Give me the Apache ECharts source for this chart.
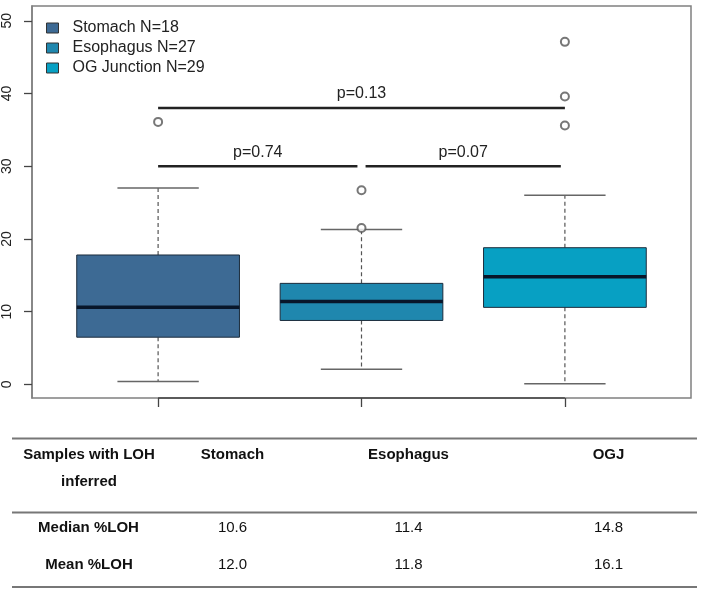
<!DOCTYPE html>
<html>
<head>
<meta charset="utf-8">
<script src="https://cdn.jsdelivr.net/npm/echarts@6/dist/echarts.min.js"></script>
<style>
  html, body { margin: 0; padding: 0; background: #fff; }
  #chart { width: 706px; height: 589px; }
</style>
</head>
<body>
<div id="chart"></div>
<script>
// groups (legend names) and box colours
const groupNames = ['Stomach N=18', 'Esophagus N=27', 'OG Junction N=29'];
const groupColors = ['#3d6a94', '#1f87ae', '#07a0c3'];
// box stats per group: [min, Q1, median, Q3, max]
const stomachBox = [0.4, 6.5, 10.6, 17.8, 27.0];
const esophagusBox = [2.1, 8.8, 11.4, 13.9, 21.3];
const ogjBox = [0.1, 10.6, 14.8, 18.8, 26.0];
// outliers per group
const stomachOut = [36.1];
const esophagusOut = [26.7, 21.5];
const ogjOut = [47.1, 39.6, 35.6];
// pairwise tests: span on x, height and label
const pSpans = [[1, 1.98], [2.02, 2.98], [1, 3]];
const pHeights = [30.0, 30.0, 38.0];
const pLabels = ['p=0.74', 'p=0.07', 'p=0.13'];
// y axis ticks
const yTicks = [0, 10, 20, 30, 40, 50];
// table below the chart
const tableCols = ['Stomach', 'Esophagus', 'OGJ'];
const medianRow = ['10.6', '11.4', '14.8'];
const meanRow = ['12.0', '11.8', '16.1'];

const boxes = [stomachBox, esophagusBox, ogjBox];
const outs = [stomachOut, esophagusOut, ogjOut];
const FONT = '"Liberation Sans", Arial, Helvetica, sans-serif';

function renderBox(params, api) {
  const x = api.value(0);
  const lo = api.value(1), q1 = api.value(2), med = api.value(3), q3 = api.value(4), hi = api.value(5);
  const hw = 0.4, cw = 0.2;
  const a = api.coord([x - hw, q3]);
  const b = api.coord([x + hw, q1]);
  const line = (p1, p2, style) => ({
    type: 'line',
    shape: { x1: p1[0], y1: p1[1], x2: p2[0], y2: p2[1] },
    style: style
  });
  const dashed = { stroke: '#555', lineWidth: 1.2, lineDash: [4, 3] };
  const cap = { stroke: '#666', lineWidth: 1.5 };
  return {
    type: 'group',
    children: [
      line(api.coord([x, q3]), api.coord([x, hi]), dashed),
      line(api.coord([x, q1]), api.coord([x, lo]), dashed),
      line(api.coord([x - cw, hi]), api.coord([x + cw, hi]), cap),
      line(api.coord([x - cw, lo]), api.coord([x + cw, lo]), cap),
      {
        type: 'rect',
        shape: { x: a[0], y: a[1], width: b[0] - a[0], height: b[1] - a[1] },
        style: { fill: api.visual('color'), stroke: '#1c2c3c', lineWidth: 1 }
      },
      line(api.coord([x - hw, med]), api.coord([x + hw, med]), { stroke: '#08162a', lineWidth: 3.5 })
    ]
  };
}

function renderTest(params, api) {
  const p1 = api.coord([api.value(0), api.value(2)]);
  const p2 = api.coord([api.value(1), api.value(2)]);
  const mid = api.coord([(api.value(0) + api.value(1)) / 2, api.value(2)]);
  return {
    type: 'group',
    children: [
      { type: 'line', shape: { x1: p1[0], y1: p1[1], x2: p2[0], y2: p2[1] },
        style: { stroke: '#222', lineWidth: 2.5 } },
      { type: 'text', x: mid[0], y: mid[1] - 14,
        style: { text: pLabels[params.dataIndex], font: '16px ' + FONT, fill: '#222',
                 textAlign: 'center', textVerticalAlign: 'middle' } }
    ]
  };
}

function renderAxisLine(params, api) {
  const p1 = api.coord([api.value(0), api.value(2)]);
  const p2 = api.coord([api.value(1), api.value(2)]);
  return { type: 'line', shape: { x1: p1[0], y1: p1[1], x2: p2[0], y2: p2[1] },
           style: { stroke: '#444', lineWidth: 1.5 } };
}

const yMin = -1.86, yMax = 52.03;

const series = groupNames.map((name, i) => ({
  name: name,
  type: 'custom',
  renderItem: renderBox,
  itemStyle: { color: groupColors[i] },
  encode: { x: 0, y: [1, 2, 3, 4, 5] },
  data: [[i + 1].concat(boxes[i])],
  z: 2
}));

const outlierData = [];
outs.forEach((vals, i) => vals.forEach(v => outlierData.push([i + 1, v])));
series.push({
  name: 'outliers',
  type: 'scatter',
  symbol: 'emptyCircle',
  symbolSize: 8,
  itemStyle: { color: '#555', borderColor: '#555', borderWidth: 1.3 },
  data: outlierData,
  z: 3
});

series.push({
  name: 'tests',
  type: 'custom',
  renderItem: renderTest,
  encode: { x: [0, 1], y: 2 },
  data: pSpans.map((s, i) => [s[0], s[1], pHeights[i]]),
  z: 3
});

series.push({
  name: 'xaxis',
  type: 'custom',
  renderItem: renderAxisLine,
  encode: { x: [0, 1], y: 2 },
  data: [[1, groupNames.length, yMin]],
  clip: false,
  silent: true,
  z: 4
});

// table graphics
const graphics = [];
[438.5, 512.5, 587].forEach(y => graphics.push({
  type: 'line', shape: { x1: 12, y1: y, x2: 697, y2: y },
  style: { stroke: '#777', lineWidth: 2 }
}));
function txt(t, x, y, bold) {
  graphics.push({
    type: 'text', x: x, y: y,
    style: { text: t, font: (bold ? 'bold ' : '') + '15px ' + FONT, fill: '#111',
             textAlign: 'center', textVerticalAlign: 'middle' }
  });
}
const colX = [232.5, 408.5, 608.5];
txt('Samples with LOH', 89, 455, true);
txt('inferred', 89, 482, true);
tableCols.forEach((c, i) => txt(c, colX[i], 455, true));
txt('Median %LOH', 88.5, 528, true);
txt('Mean %LOH', 89, 565, true);
medianRow.forEach((v, i) => txt(v, colX[i], 528, false));
meanRow.forEach((v, i) => txt(v, colX[i], 565, false));

const chart = echarts.init(document.getElementById('chart'));
chart.setOption({
  animation: false,
  backgroundColor: '#fff',
  grid: {
    left: 32, right: 15, top: 6, bottom: 191,
    show: true, borderColor: '#808080', borderWidth: 1.5
  },
  legend: {
    data: groupNames,
    orient: 'vertical',
    left: 46, top: 20,
    padding: 0,
    itemGap: 4,
    itemWidth: 12, itemHeight: 10,
    icon: 'rect',
    itemStyle: { borderColor: '#333', borderWidth: 1 },
    textStyle: { fontFamily: FONT, fontSize: 16, lineHeight: 16, color: '#222', padding: [0, 0, 0, 9] }
  },
  xAxis: {
    type: 'value', min: 0.38, max: 3.62,
    axisLine: { show: false, onZero: false },
    axisTick: { show: true, customValues: [1, 2, 3], length: 9, lineStyle: { color: '#444', width: 1.3 } },
    axisLabel: { show: false },
    splitLine: { show: false }
  },
  yAxis: {
    type: 'value', min: yMin, max: yMax,
    axisLine: { show: true, onZero: false, lineStyle: { color: '#808080', width: 1.5 } },
    axisTick: { show: true, customValues: yTicks, length: 8, lineStyle: { color: '#444', width: 1.3 } },
    axisLabel: { customValues: yTicks, rotate: 90, margin: 18, fontSize: 14, fontFamily: FONT, color: '#222' },
    splitLine: { show: false }
  },
  series: series,
  graphic: graphics
});
</script>
</body>
</html>
